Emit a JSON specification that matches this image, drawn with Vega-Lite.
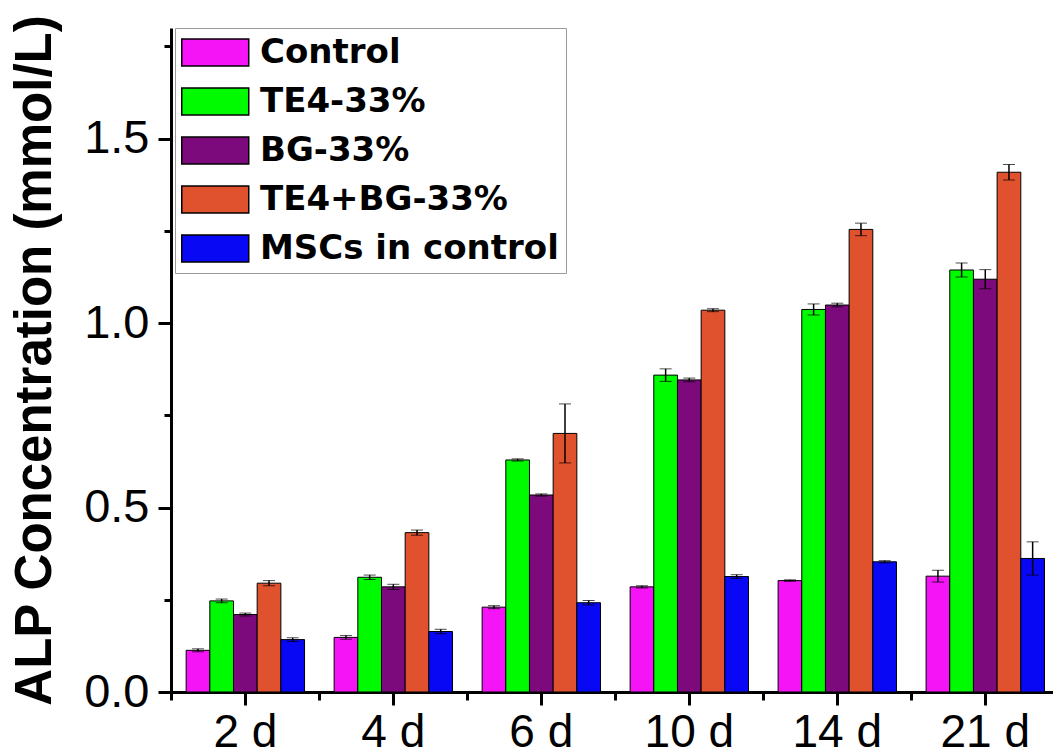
{
  "$schema": "https://vega.github.io/schema/vega-lite/v6.json",
  "width": 882,
  "height": 664,
  "autosize": {"type": "none"},
  "padding": {"left": 171, "top": 28, "right": 0, "bottom": 64},
  "background": "white",
  "config": {
    "view": {"stroke": null},
    "font": "Liberation Sans",
    "axis": {"grid": false, "labelColor": "black", "tickColor": "black", "domainColor": "black", "titleColor": "black"}
  },
  "data": {
    "values": [
      {"day": "2 d", "group": "Control", "value": 0.113, "err": 0.004},
      {"day": "2 d", "group": "TE4-33%", "value": 0.247, "err": 0.005},
      {"day": "2 d", "group": "BG-33%", "value": 0.21, "err": 0.004},
      {"day": "2 d", "group": "TE4+BG-33%", "value": 0.295, "err": 0.007},
      {"day": "2 d", "group": "MSCs in control", "value": 0.142, "err": 0.005},
      {"day": "4 d", "group": "Control", "value": 0.148, "err": 0.005},
      {"day": "4 d", "group": "TE4-33%", "value": 0.311, "err": 0.006},
      {"day": "4 d", "group": "BG-33%", "value": 0.285, "err": 0.007},
      {"day": "4 d", "group": "TE4+BG-33%", "value": 0.432, "err": 0.007},
      {"day": "4 d", "group": "MSCs in control", "value": 0.164, "err": 0.006},
      {"day": "6 d", "group": "Control", "value": 0.23, "err": 0.004},
      {"day": "6 d", "group": "TE4-33%", "value": 0.629, "err": 0.003},
      {"day": "6 d", "group": "BG-33%", "value": 0.534, "err": 0.003},
      {"day": "6 d", "group": "TE4+BG-33%", "value": 0.701, "err": 0.08},
      {"day": "6 d", "group": "MSCs in control", "value": 0.242, "err": 0.006},
      {"day": "10 d", "group": "Control", "value": 0.285, "err": 0.003},
      {"day": "10 d", "group": "TE4-33%", "value": 0.859, "err": 0.017},
      {"day": "10 d", "group": "BG-33%", "value": 0.846, "err": 0.005},
      {"day": "10 d", "group": "TE4+BG-33%", "value": 1.035, "err": 0.004},
      {"day": "10 d", "group": "MSCs in control", "value": 0.313, "err": 0.005},
      {"day": "14 d", "group": "Control", "value": 0.302, "err": 0.002},
      {"day": "14 d", "group": "TE4-33%", "value": 1.037, "err": 0.015},
      {"day": "14 d", "group": "BG-33%", "value": 1.049, "err": 0.005},
      {"day": "14 d", "group": "TE4+BG-33%", "value": 1.254, "err": 0.017},
      {"day": "14 d", "group": "MSCs in control", "value": 0.353, "err": 0.003},
      {"day": "21 d", "group": "Control", "value": 0.314, "err": 0.016},
      {"day": "21 d", "group": "TE4-33%", "value": 1.144, "err": 0.019},
      {"day": "21 d", "group": "BG-33%", "value": 1.119, "err": 0.026},
      {"day": "21 d", "group": "TE4+BG-33%", "value": 1.409, "err": 0.021},
      {"day": "21 d", "group": "MSCs in control", "value": 0.362, "err": 0.045}
    ]
  },
  "layer": [
    {
      "mark": {"type": "bar", "stroke": "black", "strokeWidth": 1},
      "encoding": {
        "x": {
          "field": "day", "type": "nominal",
          "sort": ["2 d", "4 d", "6 d", "10 d", "14 d", "21 d"],
          "scale": {"paddingInner": 0.2, "paddingOuter": 0.08, "align": 0.64},
          "axis": {"orient": "bottom", "title": null, "labelFontSize": 46, "labelAngle": 0, "tickSize": 13, "tickWidth": 3, "domainWidth": 3, "labelPadding": 5}
        },
        "xOffset": {
          "field": "group", "type": "nominal",
          "sort": ["Control", "TE4-33%", "BG-33%", "TE4+BG-33%", "MSCs in control"],
          "scale": {"paddingInner": 0, "paddingOuter": 0}
        },
        "y": {
          "field": "value", "type": "quantitative",
          "scale": {"domain": [0, 1.8], "nice": false},
          "axis": {"orient": "left", "title": "ALP Concentration (mmol/L)", "values": [0, 0.5, 1, 1.5], "format": ".1f", "labelFontSize": 47, "tickSize": 13, "tickWidth": 3, "domainWidth": 3, "labelPadding": 9, "titleFontSize": 51, "titleFontWeight": "bold", "titlePadding": 22}
        },
        "color": {
          "field": "group", "type": "nominal",
          "sort": ["Control", "TE4-33%", "BG-33%", "TE4+BG-33%", "MSCs in control"],
          "scale": {
            "domain": ["Control", "TE4-33%", "BG-33%", "TE4+BG-33%", "MSCs in control"],
            "range": ["#F514F5", "#00FA00", "#7D0A7D", "#E0522E", "#0808F5"]
          },
          "legend": {
            "orient": "none", "legendX": 4, "legendY": 0, "title": null,
            "symbolType": "M-1.06,-0.806H2.94V0.806H-1.06Z", "symbolSize": 1122,
            "symbolStrokeColor": "black", "symbolStrokeWidth": 1.5, "symbolOpacity": 1,
            "labelFont": "DejaVu Sans", "labelFontWeight": "bold", "labelFontSize": 34, "labelColor": "black",
            "labelOffset": 43, "rowPadding": 14, "padding": 7, "labelLimit": 0,
            "strokeColor": "#9a9a9a", "fillColor": "white"
          }
        }
      }
    },
    {
      "mark": {"type": "errorbar", "ticks": {"size": 12, "color": "black", "strokeWidth": 1.5}, "rule": {"color": "black", "strokeWidth": 1.5}},
      "encoding": {
        "x": {
          "field": "day", "type": "nominal",
          "sort": ["2 d", "4 d", "6 d", "10 d", "14 d", "21 d"],
          "axis": {"orient": "bottom", "title": null, "labels": false, "domain": false, "bandPosition": -0.125, "tickSize": 8, "tickWidth": 3}
        },
        "xOffset": {
          "field": "group", "type": "nominal",
          "sort": ["Control", "TE4-33%", "BG-33%", "TE4+BG-33%", "MSCs in control"]
        },
        "y": {
          "field": "value", "type": "quantitative",
          "axis": {"orient": "left", "title": null, "labels": false, "domain": false, "values": [0.25, 0.75, 1.25, 1.75], "tickSize": 7, "tickWidth": 3}
        },
        "yError": {"field": "err"}
      }
    }
  ],
  "resolve": {"axis": {"x": "independent", "y": "independent"}}
}
